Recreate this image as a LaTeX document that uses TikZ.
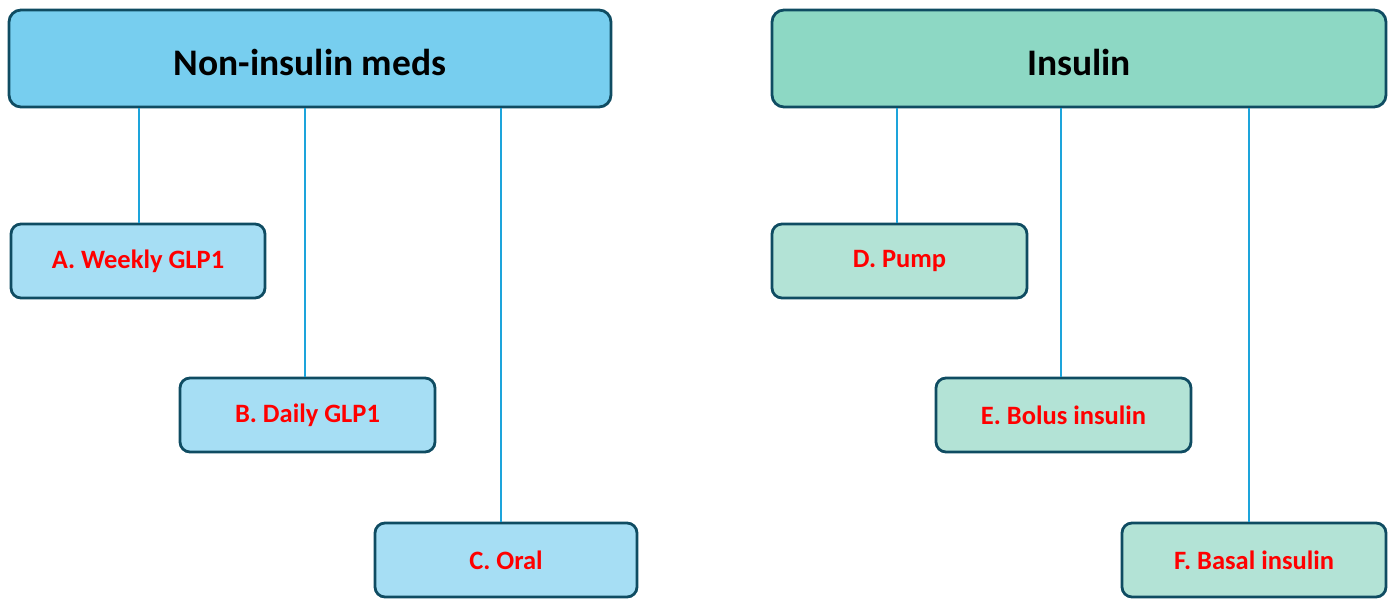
\documentclass[tikz,border=0pt]{standalone}
\usepackage{fontspec}
\setmainfont{Carlito}
\definecolor{bordc}{HTML}{0F4C62}
\definecolor{linec}{HTML}{1DA4DB}
\definecolor{bluehead}{HTML}{77CEEF}
\definecolor{bluechild}{HTML}{A6DEF4}
\definecolor{greenhead}{HTML}{8DD8C4}
\definecolor{greenchild}{HTML}{B3E3D6}
\definecolor{redtxt}{HTML}{FF0000}
\begin{document}
\begin{tikzpicture}[x=1pt,y=-1pt,
  headbox/.style={draw=bordc, line width=2.8pt, rounded corners=12pt, align=center, inner sep=0pt,
    font=\fontsize{37.5}{44}\selectfont\bfseries, text=black},
  childbox/.style={draw=bordc, line width=2.8pt, rounded corners=10pt, align=center, inner sep=0pt,
    minimum height=74pt, font=\fontsize{26.5}{31}\selectfont\bfseries, text=redtxt},
  conn/.style={draw=linec, line width=1.5pt}]
\useasboundingbox (0,0) rectangle (1393,598);
\node[headbox, fill=bluehead, minimum width=602pt, minimum height=97pt] (nim) at (310,58.5) {};
\node[font=\fontsize{37.5}{44}\selectfont\bfseries] (nimt) at (310,62) {Non-insulin meds};
\node[headbox, fill=greenhead, minimum width=614pt, minimum height=97pt] (ins) at (1079,58.5) {};
\node[font=\fontsize{37.5}{44}\selectfont\bfseries] (inst) at (1079,62) {Insulin};
\node[childbox, fill=bluechild, minimum width=254pt] (a) at (138,261) {A. Weekly GLP1};
\node[childbox, fill=bluechild, minimum width=255pt] (b) at (307.5,415) {B. Daily GLP1};
\node[childbox, fill=bluechild, minimum width=262pt] (c) at (506,560) {C. Oral};
\node[childbox, fill=greenchild, minimum width=255pt] (d) at (899.5,261) {D. Pump};
\node[childbox, fill=greenchild, minimum width=255pt] (e) at (1063.5,415) {E. Bolus insulin};
\node[childbox, fill=greenchild, minimum width=264pt] (f) at (1254,560) {F. Basal insulin};
\coordinate (pa) at ([xshift=1pt]a.north);
\coordinate (pb) at ([xshift=-2.5pt]b.north);
\coordinate (pc) at ([xshift=-5pt]c.north);
\coordinate (pd) at ([xshift=-2.5pt]d.north);
\coordinate (pe) at ([xshift=-2.5pt]e.north);
\coordinate (pf) at ([xshift=-5pt]f.north);
\draw[conn] (pa) -- (pa |- nim.south);
\draw[conn] (pb) -- (pb |- nim.south);
\draw[conn] (pc) -- (pc |- nim.south);
\draw[conn] (pd) -- (pd |- ins.south);
\draw[conn] (pe) -- (pe |- ins.south);
\draw[conn] (pf) -- (pf |- ins.south);
\end{tikzpicture}
\end{document}
